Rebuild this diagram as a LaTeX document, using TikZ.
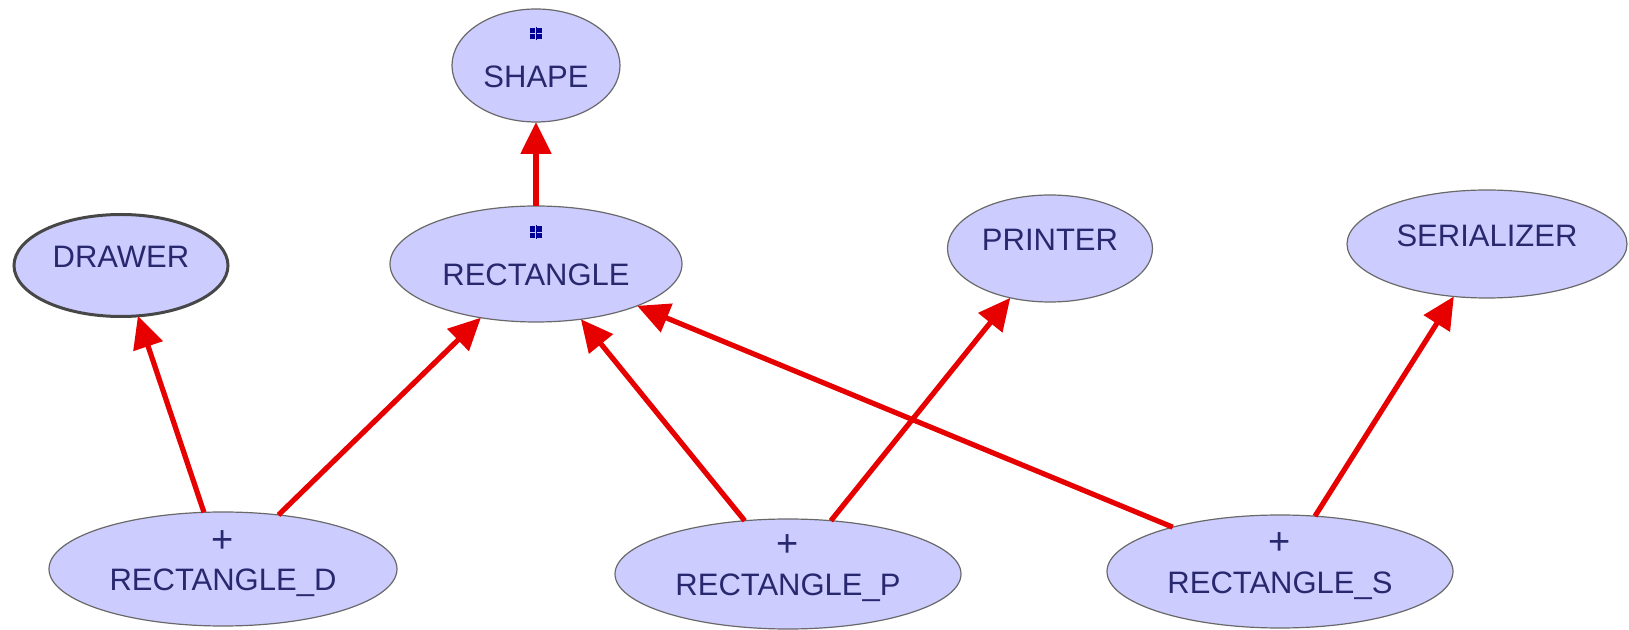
\documentclass[tikz,border=0pt]{standalone}
\usepackage{fontspec}
\setmainfont{Liberation Sans}
\usetikzlibrary{arrows.meta,shapes.geometric}
\definecolor{clsfill}{RGB}{204,204,255}
\definecolor{clsline}{RGB}{105,105,105}
\definecolor{clstext}{RGB}{40,40,110}
\definecolor{markblue}{RGB}{0,0,150}
\definecolor{heirred}{RGB}{230,0,0}

\newcommand{\sq}{\rule{2.6pt}{2.6pt}}
\newcommand{\classmark}{{\color{markblue}\raisebox{4.5pt}{\hbox{%
  \vbox{\offinterlineskip\hbox{\sq\kern.6pt\sq}\kern.6pt\hbox{\sq\kern.6pt\sq}}%
  \kern-3.1pt\rule[-0.5pt]{0.4pt}{6.8pt}\kern2.7pt}}}}

\begin{document}
\begin{tikzpicture}[x=0.5pt,y=-0.5pt,
  cls/.style={ellipse, draw=clsline, line width=0.6pt, fill=clsfill,
    text=clstext, inner sep=0pt, outer sep=0pt,
    font=\fontsize{15.5}{19.5}\selectfont},
  oneline/.style={cls, text height=11pt, text depth=8.5pt},
  twoline/.style={cls, align=center, text height=30pt, text depth=8pt},
  heir/.style={draw=heirred, line width=2.6pt,
    -{Triangle[length=16pt,width=15pt]}}]
\useasboundingbox (0,0) rectangle (1629,630);

% classes
\node[twoline, minimum width=84pt, minimum height=56.5pt] (shape) at (536,65.5) {\classmark\\SHAPE};
\node[twoline, minimum width=146pt, minimum height=58pt] (rect) at (536,264) {\classmark\\RECTANGLE};
\node[oneline, minimum width=107pt, minimum height=51pt, draw=black!72, line width=1.5pt] (drawer) at (121,265.5) {DRAWER};
\node[oneline, minimum width=102.5pt, minimum height=53.5pt] (printer) at (1050,248.5) {PRINTER};
\node[oneline, minimum width=140pt, minimum height=54pt] (serializer) at (1487,244) {SERIALIZER};
\node[twoline, minimum width=174pt, minimum height=57pt] (rectD) at (223,569) {{\fontsize{19}{19}\selectfont +}\\RECTANGLE\_D};
\node[twoline, minimum width=173pt, minimum height=55pt] (rectP) at (788,574) {{\fontsize{19}{19}\selectfont +}\\RECTANGLE\_P};
\node[twoline, minimum width=173pt, minimum height=56.5pt] (rectS) at (1280,571.5) {{\fontsize{19}{19}\selectfont +}\\RECTANGLE\_S};

% inheritance
\draw[heir] (rect) -- (shape);
\draw[heir] (rectD) -- (drawer);
\draw[heir] (rectD) -- (rect);
\draw[heir] (rectP) -- (rect);
\draw[heir] (rectP) -- (printer);
\draw[heir] (rectS) -- (rect);
\draw[heir] (rectS) -- (serializer);
\end{tikzpicture}
\end{document}
